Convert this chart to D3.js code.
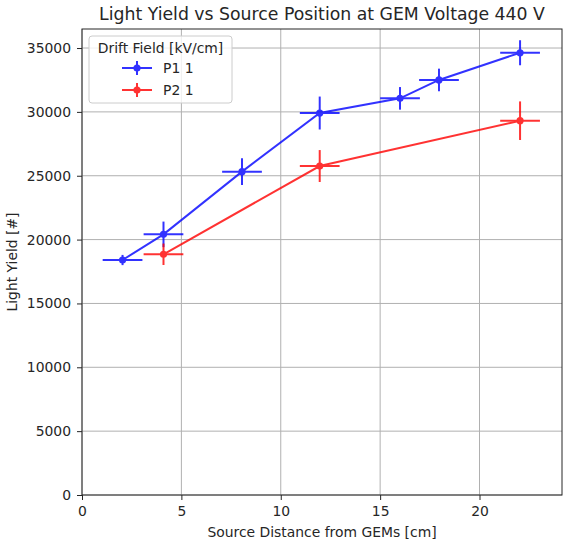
<!DOCTYPE html>
<html>
<head>
<meta charset="utf-8">
<script src="https://cdn.jsdelivr.net/npm/d3@7"></script>
<style>
  html, body { margin: 0; padding: 0; background: #fff; overflow: hidden; }
  svg { display: block; }
  text { font-family: "DejaVu Sans", sans-serif; fill: #262626; }
</style>
</head>
<body>
<div id="chart"></div>
<script>
// P1 1 series
const p1X = [2.04, 4.1, 8.05, 11.96, 16.0, 17.96, 22.04];
const p1Y = [18400, 20410, 25320, 29910, 31060, 32500, 34630];
const p1XErr = [1, 1, 1, 1, 1, 1, 1];
const p1YErr = [400, 1000, 1040, 1290, 885, 885, 980];

// P2 1 series
const p2X = [4.1, 11.96, 22.04];
const p2Y = [18850, 25760, 29310];
const p2XErr = [1, 1, 1];
const p2YErr = [840, 1250, 1510];

const xTicks = [0, 5, 10, 15, 20];
const yTicks = [0, 5000, 10000, 15000, 20000, 25000, 30000, 35000];

const width = 563, height = 543;
const margin = { top: 29, right: 1, bottom: 48, left: 82 };
const innerWidth = width - margin.left - margin.right;
const innerHeight = height - margin.top - margin.bottom;

const svg = d3.select("#chart").append("svg")
    .attr("width", width)
    .attr("height", height);

const g = svg.append("g")
    .attr("transform", `translate(${margin.left},${margin.top})`);

const x = d3.scaleLinear().domain([0, 24.15]).range([0, innerWidth]);
const y = d3.scaleLinear().domain([0, 36490]).range([innerHeight, 0]);

// grid
g.append("g").selectAll("line").data(xTicks).enter().append("line")
    .attr("x1", d => x(d)).attr("x2", d => x(d))
    .attr("y1", 0).attr("y2", innerHeight)
    .attr("stroke", "#b0b0b0").attr("stroke-width", 1);
g.append("g").selectAll("line").data(yTicks).enter().append("line")
    .attr("x1", 0).attr("x2", innerWidth)
    .attr("y1", d => y(d)).attr("y2", d => y(d))
    .attr("stroke", "#b0b0b0").attr("stroke-width", 1);

// axes
const xAxis = g.append("g")
    .attr("transform", `translate(0,${innerHeight})`)
    .call(d3.axisBottom(x).tickValues(xTicks).tickSize(5).tickPadding(6).tickFormat(d3.format("d")));
const yAxis = g.append("g")
    .call(d3.axisLeft(y).tickValues(yTicks).tickSize(5).tickPadding(6).tickFormat(d3.format("d")));
[xAxis, yAxis].forEach(a => {
    a.select(".domain").remove();
    a.selectAll("line").attr("stroke", "#262626");
    a.selectAll("text").attr("font-size", "13.9px").attr("font-family", "DejaVu Sans").attr("fill", "#262626");
});

// frame
g.append("rect")
    .attr("width", innerWidth).attr("height", innerHeight)
    .attr("fill", "none").attr("stroke", "#262626").attr("stroke-width", 1);

// series
const series = [
    { label: "P1 1", color: "#0000ff", xs: p1X, ys: p1Y, xe: p1XErr, ye: p1YErr },
    { label: "P2 1", color: "#ff0000", xs: p2X, ys: p2Y, xe: p2XErr, ye: p2YErr }
];

const line = d3.line().x(d => x(d[0])).y(d => y(d[1]));

series.forEach(s => {
    const pts = s.xs.map((v, i) => [v, s.ys[i], s.xe[i], s.ye[i]]);
    const sg = g.append("g").attr("opacity", 0.8);
    sg.append("path")
        .attr("d", line(pts))
        .attr("fill", "none")
        .attr("stroke", s.color)
        .attr("stroke-width", 2);
    sg.selectAll(".xe").data(pts).enter().append("line")
        .attr("x1", d => x(d[0] - d[2])).attr("x2", d => x(d[0] + d[2]))
        .attr("y1", d => y(d[1])).attr("y2", d => y(d[1]))
        .attr("stroke", s.color).attr("stroke-width", 2);
    sg.selectAll(".ye").data(pts).enter().append("line")
        .attr("x1", d => x(d[0])).attr("x2", d => x(d[0]))
        .attr("y1", d => y(d[1] - d[3])).attr("y2", d => y(d[1] + d[3]))
        .attr("stroke", s.color).attr("stroke-width", 2);
    sg.selectAll("circle").data(pts).enter().append("circle")
        .attr("cx", d => x(d[0])).attr("cy", d => y(d[1]))
        .attr("r", 3.6)
        .attr("fill", s.color);
});

// title and labels
svg.append("text")
    .attr("x", margin.left + innerWidth / 2)
    .attr("y", 20)
    .attr("text-anchor", "middle")
    .attr("font-size", "17.3px")
    .text("Light Yield vs Source Position at GEM Voltage 440 V");

svg.append("text")
    .attr("x", margin.left + innerWidth / 2)
    .attr("y", 536.5)
    .attr("text-anchor", "middle")
    .attr("font-size", "13.9px")
    .text("Source Distance from GEMs [cm]");

svg.append("text")
    .attr("transform", `translate(17,${margin.top + innerHeight / 2}) rotate(-90)`)
    .attr("text-anchor", "middle")
    .attr("font-size", "13.9px")
    .text("Light Yield [#]");

// legend
const legend = g.append("g").attr("transform", "translate(7,7)");
legend.append("rect")
    .attr("width", 143).attr("height", 67)
    .attr("rx", 3)
    .attr("fill", "#fff").attr("fill-opacity", 0.8)
    .attr("stroke", "#cccccc");
legend.append("text")
    .attr("x", 71.5).attr("y", 17)
    .attr("text-anchor", "middle")
    .attr("font-size", "13.9px")
    .text("Drift Field [kV/cm]");
series.forEach((s, i) => {
    const ly = 32 + i * 22;
    const lg = legend.append("g").attr("opacity", 0.8);
    lg.append("line").attr("x1", 33).attr("x2", 63).attr("y1", ly).attr("y2", ly)
        .attr("stroke", s.color).attr("stroke-width", 2);
    lg.append("line").attr("x1", 48).attr("x2", 48).attr("y1", ly - 7).attr("y2", ly + 7)
        .attr("stroke", s.color).attr("stroke-width", 2);
    lg.append("circle").attr("cx", 48).attr("cy", ly).attr("r", 3.6).attr("fill", s.color);
    legend.append("text")
        .attr("x", 74).attr("y", ly + 5)
        .attr("font-size", "13.9px")
        .text(s.label);
});
</script>
</body>
</html>
